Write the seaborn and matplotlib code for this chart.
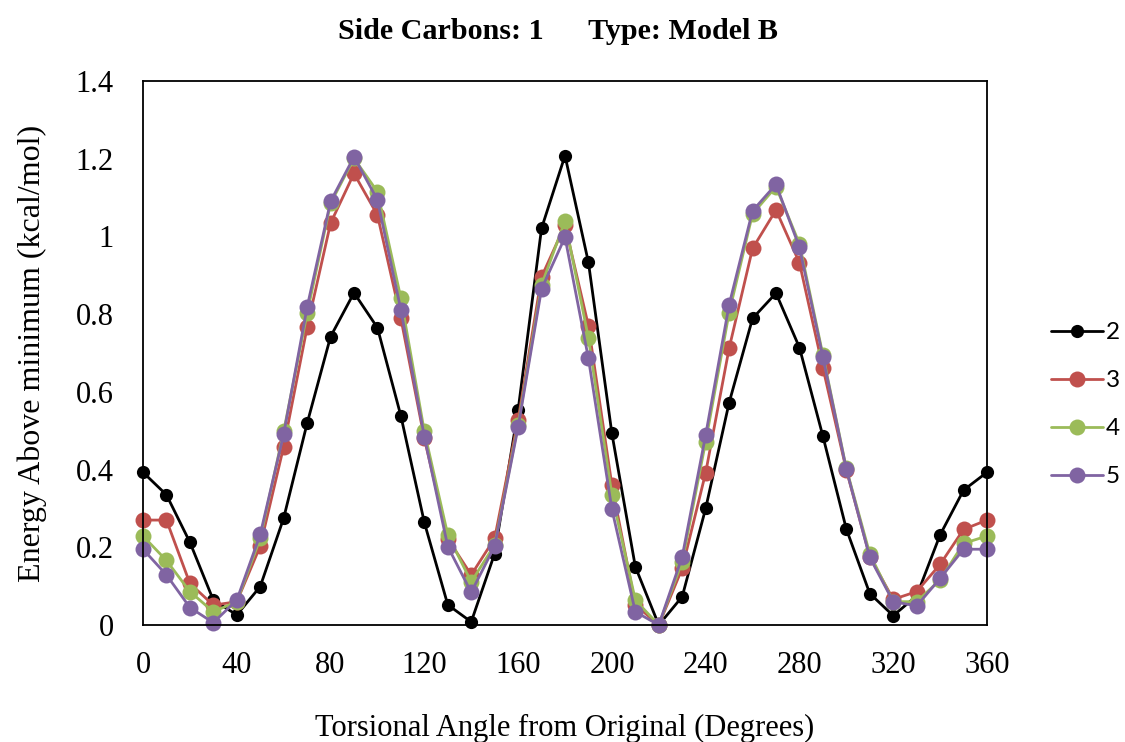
import numpy as np
import pandas as pd
import matplotlib
matplotlib.use('Agg')
import matplotlib.pyplot as plt
import seaborn as sns

angles = list(range(0, 361, 10))

side_2 = [0.393, 0.335, 0.213, 0.064, 0.026, 0.099, 0.275, 0.519, 0.742, 0.855,
          0.765, 0.538, 0.264, 0.052, 0.008, 0.184, 0.553, 1.021, 1.208, 0.933,
          0.493, 0.150, 0.0, 0.073, 0.300, 0.572, 0.789, 0.854, 0.714, 0.486,
          0.247, 0.081, 0.024, 0.075, 0.232, 0.347, 0.393]
side_3 = [0.270, 0.270, 0.107, 0.051, 0.060, 0.203, 0.459, 0.766, 1.034, 1.162,
          1.055, 0.789, 0.480, 0.222, 0.129, 0.223, 0.528, 0.896, 1.029, 0.770,
          0.360, 0.052, 0.0, 0.146, 0.392, 0.712, 0.969, 1.068, 0.932, 0.662,
          0.399, 0.176, 0.066, 0.086, 0.156, 0.246, 0.270]
side_4 = [0.229, 0.166, 0.086, 0.034, 0.060, 0.223, 0.498, 0.802, 1.085, 1.201,
          1.115, 0.841, 0.498, 0.232, 0.111, 0.206, 0.515, 0.875, 1.040, 0.738,
          0.335, 0.064, 0.0, 0.163, 0.472, 0.804, 1.058, 1.128, 0.981, 0.695,
          0.403, 0.183, 0.060, 0.060, 0.116, 0.210, 0.229]
side_5 = [0.195, 0.129, 0.045, 0.006, 0.064, 0.233, 0.491, 0.818, 1.090, 1.205,
          1.094, 0.811, 0.485, 0.202, 0.084, 0.203, 0.509, 0.865, 0.998, 0.686,
          0.298, 0.034, 0.0, 0.176, 0.489, 0.824, 1.066, 1.134, 0.972, 0.690,
          0.401, 0.174, 0.060, 0.049, 0.120, 0.195, 0.195]

series_names = ['2', '3', '4', '5']
colors = ['#000000', '#C0504D', '#9BBB59', '#8064A2']
marker_sizes = [9.5, 11.5, 11.5, 11.5]

x_ticks = [0, 40, 80, 120, 160, 200, 240, 280, 320, 360]
y_ticks = [0, 0.2, 0.4, 0.6, 0.8, 1.0, 1.2, 1.4]
y_tick_labels = ['0', '0.2', '0.4', '0.6', '0.8', '1', '1.2', '1.4']

sns.set_style('white')
plt.rcParams['font.family'] = ['Liberation Serif', 'DejaVu Serif']
plt.rcParams['text.color'] = 'black'
plt.rcParams['axes.labelcolor'] = 'black'

fig = plt.figure(figsize=(11.25, 7.42), dpi=100)
ax = fig.add_axes([143/1125, 1 - 625/742, (987-143)/1125, (625-81)/742])

for name, vals, c, ms in zip(series_names, [side_2, side_3, side_4, side_5], colors, marker_sizes):
    sns.lineplot(x=angles, y=vals, ax=ax, color=c, marker='o', markersize=ms,
                 markeredgewidth=0, linewidth=2.0, label=name, clip_on=False)

ax.set_xlim(0, 360)
ax.set_ylim(0, 1.4)
ax.set_xticks(x_ticks)
ax.set_yticks(y_ticks)
ax.set_yticklabels(y_tick_labels)
ax.tick_params(axis='both', length=0, labelsize=22, colors='black')
ax.tick_params(axis='x', pad=19)
ax.tick_params(axis='y', pad=21)
for s in ax.spines.values():
    s.set_visible(True)
    s.set_color('black')
    s.set_linewidth(1.3)

ax.set_xlabel('Torsional Angle from Original (Degrees)', fontsize=22, labelpad=24)
ax.set_ylabel('Energy Above minimum (kcal/mol)', fontsize=23, labelpad=21)
fig.text(0.496, 0.958, 'Side Carbons: 1      Type: Model B', fontsize=21.7,
         fontweight='bold', ha='center', va='center')

leg = ax.legend(loc='center left', bbox_to_anchor=(1.05, 0.405), frameon=False,
                prop={'family': 'Lato', 'size': 17.5}, handlelength=2.14,
                handletextpad=0.12, labelspacing=1.11)

fig.savefig('out.png', dpi=100)
